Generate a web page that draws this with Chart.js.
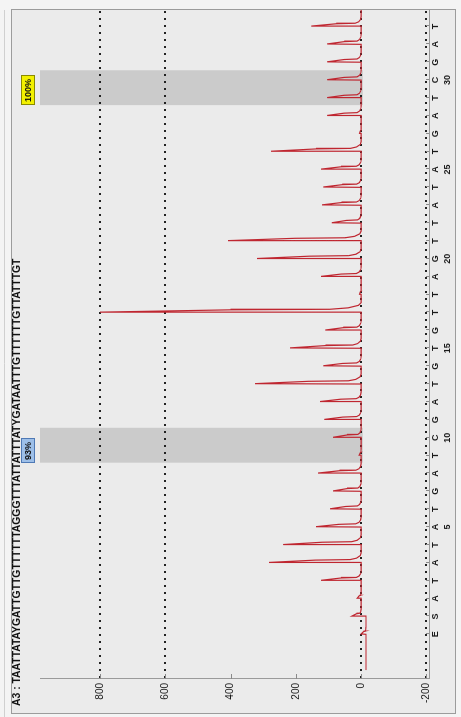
<!DOCTYPE html>
<html>
<head>
<meta charset="utf-8">
<script src="https://cdn.jsdelivr.net/npm/chart.js@4/dist/chart.umd.min.js"></script>
<style>
  html, body { margin: 0; padding: 0; background: #f3f3f3; overflow: hidden; }
  /* the pyrogram is laid out landscape and turned a quarter turn to stand upright */
  #wrap { position: absolute; left: 0; top: 0; width: 717px; height: 461px;
          transform-origin: 0 0; transform: translateY(717px) rotate(-90deg); }
  canvas { display: block; }
</style>
</head>
<body>
<div id="wrap"><canvas id="pyro" width="717" height="461"></canvas></div>
<script>
// Sample and sequence to analyze
const sampleName = 'A3';
const sequenceToAnalyze = 'TAATTATAYGATTGTTGTTTTTTAGGGTTTATTATTTATYGATAATTTGTTTTTTGTTATTTGT';

// Dispensation order (E = enzyme, S = substrate, then nucleotides 1..33)
const dispensations = ['E','S','A','T','A','T','A','T','G','A','T','C','G','A','T','G','T','G','T','T','A','G','T','T','A','T','A','T','G','A','T','C','G','A','T'];

// Peak height of each dispensation (light units)
const peakHeights = [0, 28, 12, 123, 282, 239, 138, 95, 86, 132, 6, 86, 113, 126, 325, 116, 218, 110, 800, 5, 123, 319, 408, 90, 120, 116, 123, 276, 5, 104, 104, 104, 104, 104, 153];

// Signal level before the substrate is added, and where the trace starts
const preSubstrateBaseline = -15;
const traceStart = -2;

// Variable positions: dispensation indices of the T and C pair and the result
const cpgIndices = [[10, 11], [30, 31]];
const cpgResults = ['93%', '100%'];

// Y axis ticks; dotted reference lines are drawn at some of them
const yTickValues = [-200, 0, 200, 400, 600, 800];
const dottedLines = [-200, 0, 600, 800];

// Shape of a single light peak: [offset in dispensations, fraction of height]
const peakShape = [[0, 0], [0.02, 1], [0.15, 0.5], [0.18, 0.12], [0.26, 0.05], [0.4, 0.01], [0.55, 0]];

// Build the trace from the peak heights
const trace = [{ x: traceStart, y: preSubstrateBaseline }];
peakHeights.forEach((h, i) => {
  const before = i <= 1 ? preSubstrateBaseline : 0;
  const after = i >= 1 ? 0 : preSubstrateBaseline;
  trace.push({ x: i, y: before });
  for (let j = 1; j < peakShape.length; j++) {
    const [dx, f] = peakShape[j];
    trace.push({ x: i + dx, y: after + (h - after) * f });
  }
});
trace.push({ x: 34.92, y: 0 });

const resultStyles = [
  { fill: '#9dbfe8', stroke: '#4f79b5' },
  { fill: '#f2f000', stroke: '#8a8a00' }
];

const pyroDecor = {
  id: 'pyroDecor',
  beforeDraw(chart) {
    const { ctx, scales: { x, y } } = chart;
    ctx.save();
    // panel background and frame
    ctx.fillStyle = '#f4f4f4';
    ctx.fillRect(0, 0, chart.width, chart.height);
    ctx.fillStyle = '#ebebeb';
    ctx.fillRect(4, 11, 703, 444);
    ctx.strokeStyle = '#d0d0d0';
    ctx.lineWidth = 1;
    ctx.beginPath(); ctx.moveTo(0, 4.5); ctx.lineTo(707, 4.5); ctx.stroke();
    ctx.strokeStyle = '#9c9c9c';
    ctx.strokeRect(3.5, 11.5, 704, 444);
    // shaded variable positions
    ctx.fillStyle = '#cbcbcb';
    cpgIndices.forEach(([t, c]) => {
      const x0 = x.getPixelForValue(t - 0.4);
      const x1 = x.getPixelForValue(c + 0.55);
      const y0 = y.getPixelForValue(y.max);
      const y1 = y.getPixelForValue(-5);
      ctx.fillRect(x0, y0, x1 - x0, y1 - y0);
    });
    ctx.restore();
  },
  afterDraw(chart) {
    const { ctx, chartArea: a, scales: { x, y } } = chart;
    ctx.save();
    // inner tick marks
    ctx.strokeStyle = '#8a8a8a';
    ctx.lineWidth = 1;
    yTickValues.forEach(v => {
      const py = Math.round(y.getPixelForValue(v)) + 0.5;
      ctx.beginPath(); ctx.moveTo(a.left, py); ctx.lineTo(a.left + 5, py); ctx.stroke();
    });
    dispensations.forEach((_, i) => {
      const px = Math.round(x.getPixelForValue(i)) + 0.5;
      ctx.beginPath(); ctx.moveTo(px, a.bottom); ctx.lineTo(px, a.bottom - 3); ctx.stroke();
    });
    // title
    ctx.fillStyle = '#111';
    ctx.font = 'bold 10.4px "Liberation Sans", Arial, sans-serif';
    ctx.textBaseline = 'middle';
    ctx.textAlign = 'left';
    ctx.fillText(sampleName + ' : ' + sequenceToAnalyze, 11, 17);
    // results of the variable positions
    ctx.font = 'bold 9px "Liberation Sans", Arial, sans-serif';
    cpgIndices.forEach(([t], k) => {
      const x0 = Math.round(x.getPixelForValue(t - 0.4)) + 0.5;
      const w = Math.ceil(ctx.measureText(cpgResults[k]).width) + 5;
      ctx.fillStyle = resultStyles[k].fill;
      ctx.fillRect(x0, 21.5, w, 13);
      ctx.strokeStyle = resultStyles[k].stroke;
      ctx.strokeRect(x0, 21.5, w, 13);
      ctx.fillStyle = '#111';
      ctx.fillText(cpgResults[k], x0 + 2.5, 28.5);
    });
    ctx.restore();
  }
};

new Chart(document.getElementById('pyro'), {
  type: 'line',
  data: {
    datasets: [{
      data: trace,
      borderColor: '#bf2630',
      borderWidth: 1.2,
      pointRadius: 0,
      tension: 0,
      fill: false
    }]
  },
  options: {
    responsive: false,
    animation: false,
    devicePixelRatio: 1,
    layout: { padding: { left: 6, right: 10, top: 40, bottom: 0 } },
    plugins: { legend: { display: false }, tooltip: { enabled: false }, title: { display: false } },
    scales: {
      x: {
        type: 'linear',
        min: -2.5,
        max: 34.92,
        afterBuildTicks: s => { s.ticks = dispensations.map((_, i) => ({ value: i })); },
        afterFit: s => { s.height = 32; },
        ticks: {
          autoSkip: false,
          maxRotation: 0,
          minRotation: 0,
          padding: 0,
          color: '#1a1a1a',
          font: { family: '"Liberation Sans", Arial, sans-serif', size: 9, weight: 'bold', lineHeight: 1.4 },
          callback: v => {
            const i = Math.round(v);
            const n = i - 1;
            return (n >= 1 && n % 5 === 0) ? [dispensations[i], String(n)] : dispensations[i];
          }
        },
        grid: { display: true, drawOnChartArea: false, drawTicks: false },
        border: { display: true, color: '#9a9a9a' }
      },
      y: {
        min: -208,
        max: 984,
        z: 1,
        afterBuildTicks: s => { s.ticks = yTickValues.map(v => ({ value: v })); },
        afterFit: s => { s.width = 32; },
        ticks: {
          padding: 4,
          color: '#1a1a1a',
          font: { family: '"Liberation Sans", Arial, sans-serif', size: 10 }
        },
        grid: {
          drawTicks: false,
          lineWidth: 2,
          color: c => (c.tick && dottedLines.includes(c.tick.value)) ? '#222' : 'rgba(0,0,0,0)'
        },
        border: { display: true, color: '#9a9a9a', dash: [2, 5] }
      }
    }
  },
  plugins: [pyroDecor]
});
</script>
</body>
</html>
